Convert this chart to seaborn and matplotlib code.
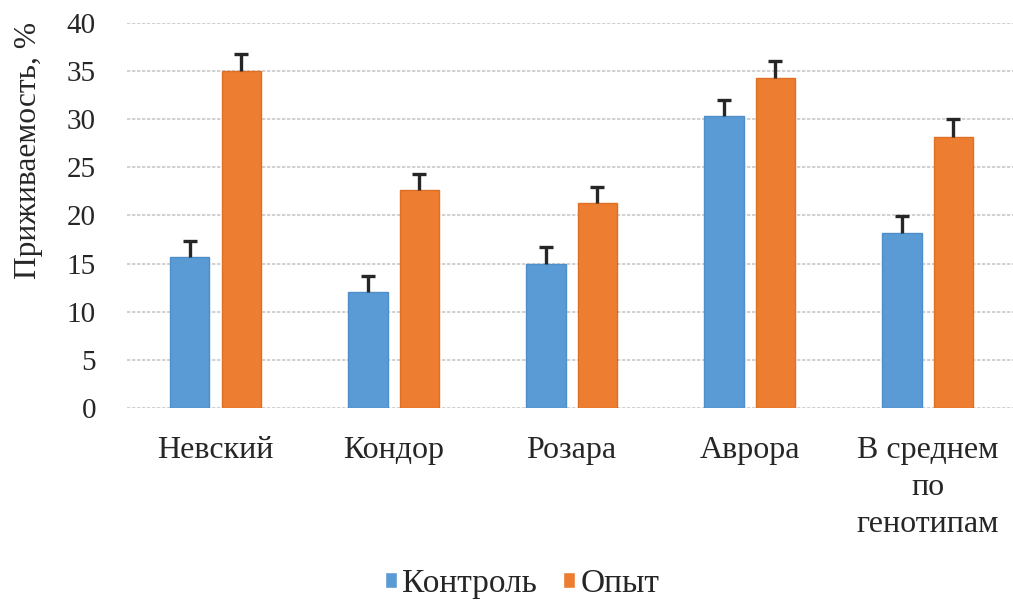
import matplotlib
matplotlib.use("Agg")
import matplotlib.pyplot as plt
import seaborn as sns
import pandas as pd

categories = ["Невский", "Кондор", "Розара", "Аврора", "В среднем\nпо\nгенотипам"]
control = [15.7, 12.0, 15.0, 30.3, 18.2]
experiment = [35.0, 22.6, 21.3, 34.3, 28.2]
control_err = [1.7, 1.7, 1.7, 1.7, 1.7]
experiment_err = [1.8, 1.7, 1.7, 1.7, 1.8]
series_names = ["Контроль", "Опыт"]
yticks = [0, 5, 10, 15, 20, 25, 30, 35, 40]

sns.set_theme(style="white")
plt.rcParams['font.family'] = ['Liberation Serif', 'DejaVu Serif']

df = pd.DataFrame({
    "cat": categories * 2,
    "val": control + experiment,
    "series": [series_names[0]] * 5 + [series_names[1]] * 5,
})
errs = control_err + experiment_err

fig = plt.figure(figsize=(10.13, 6.03), dpi=100)
ax = fig.add_axes([0.1249, 0.3234, 0.8751, 0.6385])

colors = {"Контроль": "#5B9BD5", "Опыт": "#ED7D31"}
edges = {"Контроль": "#4F8FC9", "Опыт": "#DE7026"}
sns.barplot(data=df, x="cat", y="val", hue="series", palette=colors,
            width=0.577, gap=0.235, ax=ax, legend=True, errorbar=None,
            linewidth=1, saturation=1)
for i, p in enumerate(ax.patches[:10]):
    s = series_names[0] if i < 5 else series_names[1]
    p.set_edgecolor(edges[s])

# error bars (upward only)
for i, p in enumerate(ax.patches[:10]):
    xc = p.get_x() + p.get_width() / 2
    h = p.get_height()
    _, caps, _ = ax.errorbar(xc, h, yerr=[[0], [errs[i]]], fmt="none",
                             ecolor="#262626", elinewidth=2.4, capsize=5,
                             capthick=2.4, zorder=5)
    caps[0].set_visible(False)

ax.set_ylim(0, 40)
ax.set_xlim(-0.5, 4.48)
ax.set_yticks(yticks)
ax.set_yticklabels([str(t) for t in yticks], fontsize=21)
ax.tick_params(axis="x", labelsize=23, length=0, pad=20)
ax.tick_params(axis="y", length=0, pad=22)
for lbl in ax.get_xticklabels():
    lbl.set_multialignment("center")
    lbl.set_linespacing(1.38)
ax.set_xlabel("")
ax.set_ylabel("Приживаемость, %", fontsize=22.7)
ax.yaxis.set_label_coords(-0.094, 0.668)

ax.yaxis.grid(True, color="#C8C8C8", linestyle=(0, (2, 1)), linewidth=1.2)
ax.set_axisbelow(True)
for s in ax.spines.values():
    s.set_visible(False)

handles, labels = ax.get_legend_handles_labels()
ax.get_legend().remove()
fig.legend(handles, labels, loc="center", bbox_to_anchor=(522 / 1013, 1 - 584 / 603),
           bbox_transform=fig.transFigure, ncol=2, frameon=False,
           fontsize=24, handlelength=0.36, handleheight=0.36,
           handletextpad=0.15, columnspacing=0.8)

fig.savefig("out.png", dpi=100)
